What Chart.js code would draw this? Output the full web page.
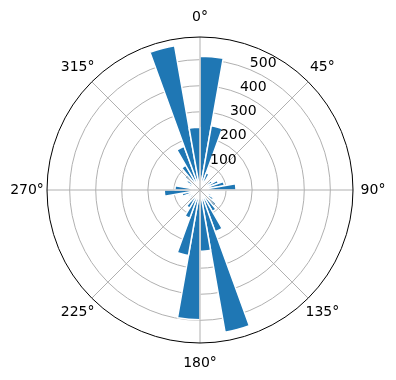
<!DOCTYPE html>
<html><head><meta charset="utf-8">
<script src="https://cdn.jsdelivr.net/npm/chart.js@4/dist/chart.umd.min.js"></script>
<style>html,body{margin:0;padding:0;background:#fff}canvas{display:block}</style>
</head><body>
<canvas id="c" width="396" height="380" style="width:396px;height:380px"></canvas>
<script>
// 36 direction bins of 10 degrees, clockwise from north
const binLabels = [];
for (let i = 0; i < 36; i++) binLabels.push((i * 10) + '°–' + (i * 10 + 10) + '°');
const counts = [
  513, 250, 70, 40, 35, 55, 75, 95, 138,
  25, 35, 45, 60, 80, 95, 170, 554, 235,
  498, 255, 115, 80, 55, 45, 50, 70, 137,
  96, 30, 45, 60, 75, 110, 178, 562, 241
];
const radialTicks = [100, 200, 300, 400, 500];
const radialMax = 587;
const thetaTickLabels = ['0°', '45°', '90°', '135°', '180°', '225°', '270°', '315°'];
const thetaTickAngles = [0, 45, 90, 135, 180, 225, 270, 315];

const FONT = '14px "DejaVu Sans"';

const polarDecor = {
  id: 'polarDecor',
  afterDraw(chart) {
    const s = chart.scales.r;
    const ctx = chart.ctx;
    const cx = s.xCenter, cy = s.yCenter, R = s.drawingArea;
    ctx.save();
    // angular grid lines
    ctx.strokeStyle = '#b0b0b0';
    ctx.lineWidth = 1;
    thetaTickAngles.forEach(a => {
      const t = a * Math.PI / 180;
      ctx.beginPath();
      ctx.moveTo(cx, cy);
      ctx.lineTo(cx + R * Math.sin(t), cy - R * Math.cos(t));
      ctx.stroke();
    });
    // outer spine
    ctx.strokeStyle = '#000';
    ctx.lineWidth = 1;
    ctx.beginPath();
    ctx.arc(cx, cy, R, 0, Math.PI * 2);
    ctx.stroke();
    // theta labels
    ctx.fillStyle = '#000';
    ctx.font = FONT;
    ctx.textAlign = 'center';
    ctx.textBaseline = 'middle';
    thetaTickLabels.forEach((lab, i) => {
      const t = thetaTickAngles[i] * Math.PI / 180;
      const d = R + 20;
      ctx.fillText(lab, cx + d * Math.sin(t), cy - d * Math.cos(t));
    });
    // radial tick labels along 22.5 degrees
    ctx.textAlign = 'left';
    ctx.textBaseline = 'bottom';
    const t = 22.5 * Math.PI / 180;
    radialTicks.forEach(v => {
      const d = s.getDistanceFromCenterForValue(v);
      ctx.fillText(String(v), cx + d * Math.sin(t), cy - d * Math.cos(t) + 1);
    });
    ctx.restore();
  }
};

new Chart(document.getElementById('c'), {
  type: 'polarArea',
  data: {
    labels: binLabels,
    datasets: [{
      data: counts,
      backgroundColor: '#1f77b4',
      borderColor: '#ffffff',
      borderWidth: 1.5
    }]
  },
  options: {
    responsive: false,
    animation: false,
    layout: { padding: { left: 47, right: 43, top: 37, bottom: 37 } },
    plugins: { legend: { display: false }, tooltip: { enabled: false } },
    scales: {
      r: {
        z: 1,
        min: 0,
        max: radialMax,
        ticks: { display: false, stepSize: 100 },
        grid: {
          color: c => (c.tick && c.tick.value === radialMax) ? 'rgba(0,0,0,0)' : '#b0b0b0',
          lineWidth: 1
        },
        angleLines: { display: false },
        pointLabels: { display: false }
      }
    }
  },
  plugins: [polarDecor]
});
</script>
</body></html>
